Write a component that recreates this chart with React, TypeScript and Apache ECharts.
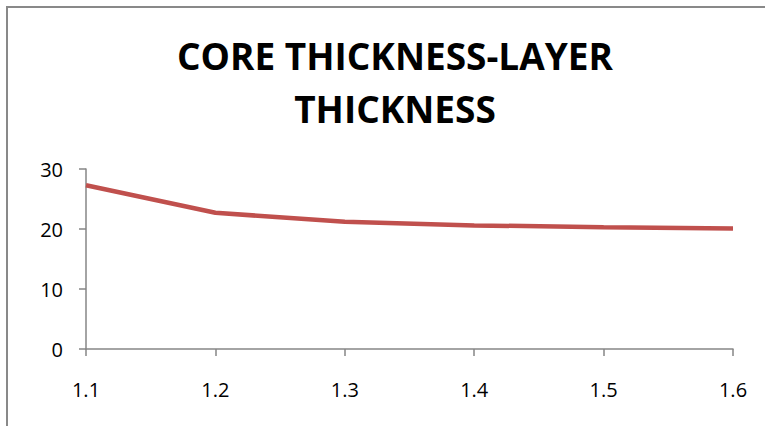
import React, { useEffect, useRef } from "react";
import * as echarts from "echarts";

const titleLines = ["CORE THICKNESS-LAYER", "THICKNESS"];
const xLabels = ["1.1", "1.2", "1.3", "1.4", "1.5", "1.6"];
const seriesValues = [27.3, 22.7, 21.2, 20.6, 20.3, 20.1];
const yTicks = { min: 0, max: 30, interval: 10 };

export default function App() {
  const ref = useRef<HTMLDivElement>(null);
  useEffect(() => {
    if (!ref.current) return;
    const chart = echarts.init(ref.current, null, { renderer: "svg" });
    chart.setOption({
      animation: false,
      backgroundColor: "#ffffff",
      textStyle: { fontFamily: "Open Sans" },
      title: {
        text: titleLines.join("\n"),
        left: 390,
        textAlign: "center",
        top: 24,
        textStyle: {
          fontFamily: "Open Sans",
          fontWeight: "bold",
          fontSize: 37,
          lineHeight: 53,
          color: "#000000",
        },
      },
      graphic: [
        {
          type: "rect",
          shape: { x: 7, y: 7, width: 800, height: 500 },
          style: { fill: "none", stroke: "#898989", lineWidth: 2 },
          silent: true,
        },
      ],
      grid: { left: 86, right: 32, top: 169, bottom: 77, containLabel: false },
      xAxis: {
        type: "category",
        data: xLabels,
        boundaryGap: false,
        axisLine: { show: true, lineStyle: { color: "#868686", width: 1.5 } },
        axisTick: { show: true, alignWithLabel: true, length: 7, lineStyle: { color: "#868686", width: 1.5 } },
        axisLabel: { color: "#000000", fontSize: 20, margin: 30, fontFamily: "Open Sans" },
        splitLine: { show: false },
      },
      yAxis: {
        type: "value",
        min: yTicks.min,
        max: yTicks.max,
        interval: yTicks.interval,
        axisLine: { show: true, lineStyle: { color: "#868686", width: 1.5 } },
        axisTick: { show: true, length: 7, lineStyle: { color: "#868686", width: 1.5 } },
        axisLabel: { color: "#000000", fontSize: 20, margin: 23, fontFamily: "Open Sans" },
        splitLine: { show: false },
      },
      series: [
        {
          type: "line",
          data: seriesValues,
          showSymbol: false,
          symbol: "none",
          lineStyle: { color: "#C0504D", width: 4.5 },
          itemStyle: { color: "#C0504D" },
        },
      ],
    });
    return () => chart.dispose();
  }, []);
  return (
    <div
      ref={ref}
      style={{ position: "absolute", left: 0, top: 0, width: 765, height: 426 }}
    />
  );
}
